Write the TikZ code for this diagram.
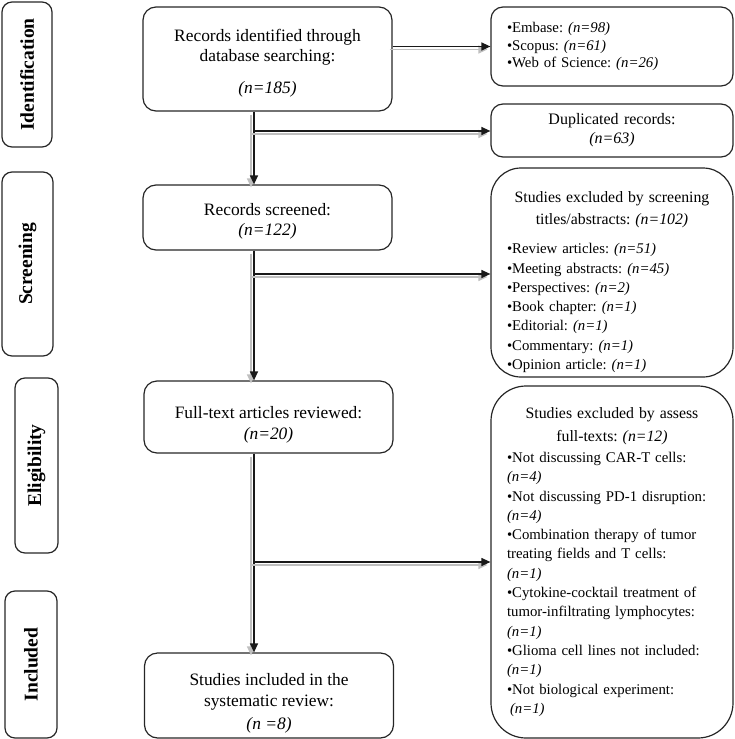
\documentclass[tikz,border=0pt]{standalone}
\usepackage{fontspec}
\setmainfont{Liberation Serif}
\usetikzlibrary{arrows.meta,positioning}
\frenchspacing

\begin{document}
\begin{tikzpicture}[x=1pt,y=-1pt,>={Triangle[length=9pt,width=8pt]},line width=1.2pt,
 stage/.style={draw=black!85,rounded corners=10pt,rotate=90,inner sep=0pt,
   font=\fontsize{19.5}{21}\selectfont\bfseries},
 box/.style={draw=black!85,rounded corners=13pt,minimum width=249pt,align=center,inner sep=0pt,
   font=\fontsize{17.4}{20.5}\selectfont},
 side/.style={draw=black!85,rounded corners=12pt,minimum width=242pt,text width=210pt,
   inner xsep=16pt,inner ysep=4pt,font=\fontsize{14.8}{19.3}\selectfont},
 big/.style={side,rounded corners=30pt},
 flow/.style={->,black!90,preaction={draw=black!25,transform canvas={shift={(-3,3)}}}}]
\useasboundingbox (0,0) rectangle (735,739);

% stage labels
\node[stage,minimum width=145pt,minimum height=50pt] (ident) at (27,74.5) {Identification};
\node[stage,minimum width=184pt,minimum height=51pt] (scr) at (27.5,264) {Screening};
\node[stage,minimum width=175pt,minimum height=43pt] (elig) at (36.5,465.5) {Eligibility};
\node[stage,minimum width=147pt,minimum height=52pt] (inc) at (31,664.5) {Included};

% main column
\node[box,minimum height=104pt] (found) at (267.5,59)
 {\rule{0pt}{20pt}Records identified through\\database searching:\\[11pt]\textit{(n=185)}};
\node[box,minimum height=65pt] (screen) at (267.5,217.5) {\rule{0pt}{20pt}Records screened:\\\textit{(n=122)}};
\node[box,minimum height=72pt] (full) at (268.5,417) {\rule{0pt}{28pt}Full-text articles reviewed:\\\textit{(n=20)}};
\node[box,minimum height=85pt] (incl) at (269,695.5)
 {\rule{0pt}{28pt}Studies included in the\\systematic review:\\[3pt]\textit{(n =8)}};

% right column
\node[side,minimum height=79pt,font=\fontsize{14.8}{17.5}\selectfont] (dbs) at (612,46.5)
 {\raggedright •Embase: \textit{(n=98)}\\•Scopus: \textit{(n=61)}\\•Web of Science: \textit{(n=26)}\par\vspace{21pt}};
\node[side,minimum height=53pt,font=\fontsize{16}{19}\selectfont] (dup) at (612,130.5)
 {\centering Duplicated records:\\\textit{(n=63)}\par};
\node[big,minimum height=209pt] (scrx) at (612,272.5)
 {{\fontsize{15.8}{22.5}\selectfont\centering\rule{0pt}{30pt}Studies excluded by screening\\titles/abstracts: \textit{(n=102)}\par}
  \vspace{9.7pt}\raggedright
  •Review articles: \textit{(n=51)}\\
  •Meeting abstracts: \textit{(n=45)}\\
  •Perspectives: \textit{(n=2)}\\
  •Book chapter: \textit{(n=1)}\\
  •Editorial: \textit{(n=1)}\\
  •Commentary: \textit{(n=1)}\\
  •Opinion article: \textit{(n=1)}};
\node[big,rounded corners=35pt,minimum height=352pt] (ftx) at (612,562)
 {{\fontsize{15.8}{23}\selectfont\centering Studies excluded by assess\\full-texts: \textit{(n=12)}\par}
  \vspace{1.7pt}\raggedright
  •Not discussing CAR-T cells:\\
  \textit{(n=4)}\\
  •Not discussing PD-1 disruption:\\
  \textit{(n=4)}\\
  •Combination therapy of tumor\\
  treating fields and T cells:\\
  \textit{(n=1)}\\
  •Cytokine-cocktail treatment of\\
  tumor-infiltrating lymphocytes:\\
  \textit{(n=1)}\\
  •Glioma cell lines not included:\\
  \textit{(n=1)}\\
  •Not biological experiment:\\
  \hspace*{3pt}\textit{(n=1)}};

% connectors
\coordinate (j1) at (254,131);
\coordinate (j2) at (254,274);
\coordinate (j3) at (254,562);
\draw[flow] (found.east |- dbs.west) -- (dbs.west);
\draw[flow] (found.south -| j1) -- (screen.north -| j1);
\draw[flow] (screen.south -| j1) -- (full.north -| j1);
\draw[flow] (full.south -| j1) -- (incl.north -| j1);
\draw[flow] (j1) -- (j1 -| dup.west);
\draw[flow] (j2) -- (j2 -| scrx.west);
\draw[flow] (j3) -- (j3 -| ftx.west);
\end{tikzpicture}
\end{document}
